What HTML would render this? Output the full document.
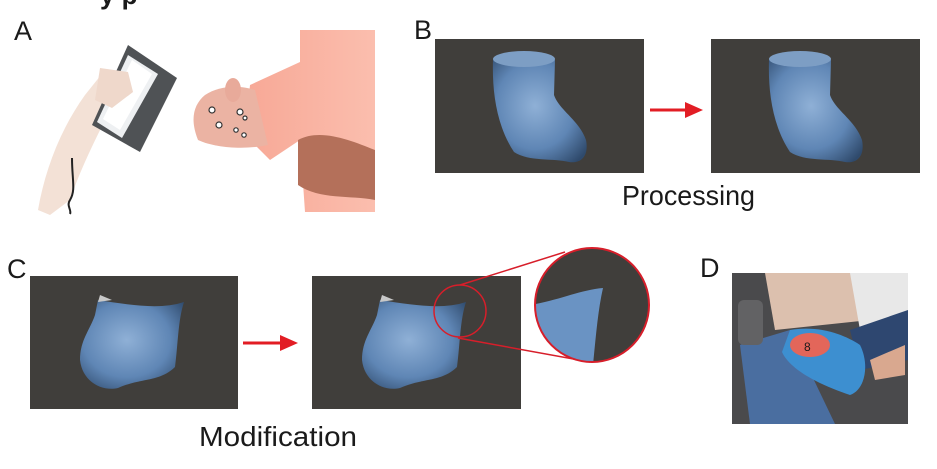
<!DOCTYPE html>
<html><head><meta charset="utf-8"><style>
html,body{margin:0;padding:0;background:#fff;}
svg{display:block}
text{font-family:"Liberation Sans",sans-serif;fill:#1a1a1a}
</style></head><body>
<svg width="937" height="469" viewBox="0 0 937 469" xmlns="http://www.w3.org/2000/svg">
<defs>
<radialGradient id="bl" cx="0.45" cy="0.45" r="0.7">
<stop offset="0" stop-color="#8fb0d6"/><stop offset="0.6" stop-color="#5f86b5"/><stop offset="1" stop-color="#2f4a6c"/>
</radialGradient>
<linearGradient id="sh" x1="0" y1="0" x2="1" y2="0">
<stop offset="0" stop-color="#f7a896"/><stop offset="1" stop-color="#fbbeae"/>
</linearGradient>
</defs>
<!-- top cut text -->
<text x="100" y="4" font-size="26" font-weight="bold">y p</text>
<!-- A -->
<text x="14" y="40" font-size="27">A</text>
<!-- arm -->
<path d="M38,210 C45,170 60,130 85,95 L105,70 L132,75 L130,100 L110,110 C95,140 80,170 70,200 L50,215 Z" fill="#f3e1d6"/>
<!-- scanner -->
<polygon points="128,45 177,78 140,152 92,125" fill="#4f5255"/>
<polygon points="128,55 158,74 122,138 97,122" fill="#eef0f2"/>
<polygon points="132,60 152,74 120,130 103,119" fill="#fff"/>
<path d="M100,68 L128,72 L133,92 L112,108 L95,100 Z" fill="#efd8cb"/>
<path d="M72,158 C72,180 76,190 70,200 C66,206 72,210 70,214" stroke="#222" stroke-width="2" fill="none"/>
<!-- shirt -->
<path d="M300,30 L375,30 L375,212 L305,212 L300,140 L270,160 L245,135 L250,85 L300,62 Z" fill="url(#sh)"/>
<path d="M205,95 C220,85 240,85 255,90 L268,145 C245,150 215,148 198,140 C190,120 193,105 205,95 Z" fill="#ebb3a3"/>
<ellipse cx="233" cy="90" rx="8" ry="12" fill="#e8aa9a"/>
<path d="M298,140 C320,128 350,140 375,150 L375,200 C350,195 320,200 298,185 Z" fill="#b4705a"/>
<g fill="#fff" stroke="#333" stroke-width="1.2">
<circle cx="212" cy="110" r="3"/><circle cx="240" cy="112" r="3"/><circle cx="219" cy="125" r="3"/><circle cx="236" cy="130" r="2.2"/><circle cx="244" cy="135" r="2.2"/><circle cx="245" cy="118" r="2"/>
</g>
<!-- B -->
<text x="414" y="39" font-size="27">B</text>
<rect x="435" y="39" width="209" height="134" fill="#403e3b"/>
<rect x="711" y="39" width="209" height="134" fill="#403e3b"/>
<g id="boot">
<path d="M769,60 C768,90 772,125 790,152 C805,162 830,158 845,162 C858,164 865,155 862,140 C855,120 835,110 830,95 L831,60 Z" fill="url(#bl)"/>
<ellipse cx="800" cy="59" rx="31" ry="8" fill="#7d9ec4"/>
</g>
<use href="#boot" transform="translate(-276,0)"/>
<line x1="650" y1="110" x2="688" y2="110" stroke="#e21d24" stroke-width="3"/>
<polygon points="685,102 703,110 685,118" fill="#e21d24"/>
<text x="622" y="205" font-size="28" textLength="133" lengthAdjust="spacingAndGlyphs">Processing</text>
<!-- C -->
<text x="7" y="278" font-size="27">C</text>
<rect x="30" y="276" width="208" height="133" fill="#403e3b"/>
<rect x="312" y="276" width="209" height="133" fill="#403e3b"/>
<g id="cup">
<path d="M98,300 C130,305 160,310 184,302 C178,320 178,345 175,367 C160,382 140,378 118,388 C100,392 82,380 80,360 C80,340 90,330 95,315 Z" fill="url(#bl)"/>
<path d="M100,295 L112,300 L98,302 Z" fill="#c8c8c8"/>
</g>
<use href="#cup" transform="translate(282,0)"/>
<line x1="243" y1="343" x2="283" y2="343" stroke="#e21d24" stroke-width="3"/>
<polygon points="280,335 298,343 280,351" fill="#e21d24"/>
<!-- zoom circle -->
<line x1="460" y1="285" x2="565" y2="252" stroke="#d71e2a" stroke-width="1.5"/>
<line x1="458" y1="338" x2="590" y2="362" stroke="#d71e2a" stroke-width="1.5"/>
<circle cx="460" cy="311" r="26" fill="none" stroke="#d71e2a" stroke-width="1.5"/>
<clipPath id="cc"><circle cx="592" cy="305" r="57"/></clipPath>
<circle cx="592" cy="305" r="57" fill="#403e3b"/>
<path d="M530,305 C560,300 580,290 603,288 C598,310 596,335 593,365 L530,365 Z" fill="#6a93c3" clip-path="url(#cc)"/>
<circle cx="592" cy="305" r="57" fill="none" stroke="#d71e2a" stroke-width="2"/>
<text x="199" y="446" font-size="28" textLength="158" lengthAdjust="spacingAndGlyphs">Modification</text>
<!-- D -->
<text x="700" y="277" font-size="27">D</text>
<rect x="732" y="273" width="176" height="151" fill="#4a4a4c"/>
<path d="M765,273 L860,273 L870,320 L775,330 Z" fill="#dcc0ae"/>
<path d="M850,273 L908,273 L908,330 L860,330 Z" fill="#e8e8e8"/>
<path d="M740,345 L790,330 L835,424 L750,424 Z" fill="#4a6ea0"/>
<path d="M850,330 L908,310 L908,360 L860,370 Z" fill="#2e4770"/>
<path d="M790,330 C820,325 845,335 860,345 C870,365 865,390 850,395 C820,385 790,370 782,352 Z" fill="#3d8fd0"/>
<ellipse cx="810" cy="345" rx="20" ry="12" fill="#e3665a"/>
<text x="804" y="351" font-size="12">8</text>
<path d="M870,360 L905,345 L905,375 L875,380 Z" fill="#d9a88f"/>
<rect x="738" y="300" width="25" height="45" rx="6" fill="#626264"/>
</svg>
</body></html>
